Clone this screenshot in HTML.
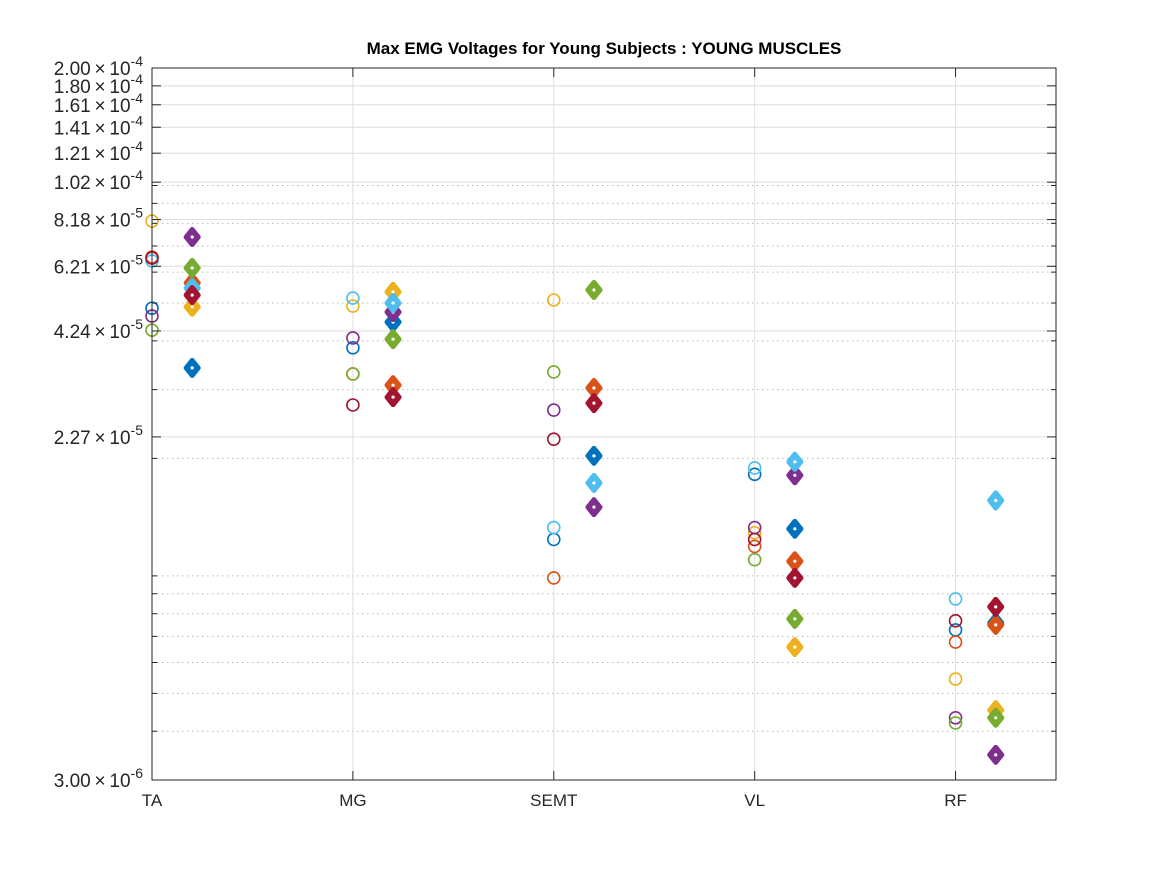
<!DOCTYPE html>
<html><head><meta charset="utf-8"><style>
html,body{margin:0;padding:0;background:#fff;}
svg{display:block;font-family:"Liberation Sans",Arial,sans-serif;}
</style></head><body>
<svg id="chart" width="1167" height="875" viewBox="0 0 1167 875" xmlns="http://www.w3.org/2000/svg">
<rect width="1167" height="875" fill="#fff"/>
<text x="604" y="54" text-anchor="middle" font-size="17" font-weight="bold" fill="#000">Max EMG Voltages for Young Subjects : YOUNG MUSCLES</text>
<g id="grid"></g><g id="marks"></g><g id="axes"></g>
</svg>
<script>
const categories = ["TA","MG","SEMT","VL","RF"];
const yTickValues = [2.00e-4,1.80e-4,1.61e-4,1.41e-4,1.21e-4,1.02e-4,8.18e-5,6.21e-5,4.24e-5,2.27e-5,3.00e-6];
const yTickMant = ["2.00","1.80","1.61","1.41","1.21","1.02","8.18","6.21","4.24","2.27","3.00"];
const yTickExp = ["-4","-4","-4","-4","-4","-4","-5","-5","-5","-5","-6"];
const colors = ["#0072BD","#D95319","#EDB120","#7E2F8E","#77AC30","#4DBEEE","#A2142F"];
// values in units of 1e-5 V
const circBlue = [4.85,3.84,1.24,1.82,0.727];
const circOrange = [6.56,3.29,0.988,1.19,0.677];
const circYellow = [8.11,4.91,5.09,1.29,0.544];
const circPurple = [4.63,4.07,2.66,1.33,0.433];
const circGreen = [4.26,3.29,3.33,1.10,0.420];
const circLightBlue = [6.41,5.15,1.33,1.89,0.873];
const circRed = [6.52,2.74,2.24,1.24,0.767];
const diaBlue = [3.41,4.47,2.03,1.32,0.758];
const diaOrange = [5.63,3.08,3.03,1.09,0.749];
const diaYellow = [4.89,5.34,5.40,0.657,0.453];
const diaPurple = [7.38,4.74,1.50,1.81,0.348];
const diaGreen = [6.15,4.04,5.40,0.776,0.433];
const diaLightBlue = [5.46,5.00,1.73,1.96,1.56];
const diaRed = [5.24,2.87,2.77,0.988,0.833];

const circSeries=[circBlue,circOrange,circYellow,circPurple,circGreen,circLightBlue,circRed];
const diaSeries=[diaBlue,diaOrange,diaYellow,diaPurple,diaGreen,diaLightBlue,diaRed];
const L=152,R=1056,T=68,B=780,YMAX=2e-4,YMIN=3e-6;
const NS="http://www.w3.org/2000/svg";
function X(i){return L+(i)*(R-L)/4.5;}
function Y(v){return T+(Math.log10(YMAX)-Math.log10(v))/(Math.log10(YMAX)-Math.log10(YMIN))*(B-T);}
function mk(tag,attrs,parent){const e=document.createElementNS(NS,tag);for(const k in attrs)e.setAttribute(k,attrs[k]);parent.appendChild(e);return e;}
const grid=document.getElementById('grid'),marks=document.getElementById('marks'),axes=document.getElementById('axes');
for(let k=-6;k<=-4;k++){for(let n=1;n<=9;n++){const v=n*Math.pow(10,k);if(v<YMIN*1.001||v>YMAX*0.999)continue;const y=Y(v);
const g=mk('line',{x1:L,x2:R,y1:y,y2:y,stroke:'#b8b8b8','stroke-width':1,'stroke-dasharray':'1.5 3.5'},grid);

mk('line',{x1:L,x2:L+5,y1:y,y2:y,stroke:'#262626'},axes);mk('line',{x1:R,x2:R-5,y1:y,y2:y,stroke:'#262626'},axes);}}
yTickValues.forEach((v,i)=>{const y=Y(v);
const g=mk('line',{x1:L,x2:R,y1:y,y2:y,stroke:'#dedede','stroke-width':1},grid);

mk('line',{x1:L,x2:L+9,y1:y,y2:y,stroke:'#262626'},axes);mk('line',{x1:R,x2:R-9,y1:y,y2:y,stroke:'#262626'},axes);
const t=mk('text',{x:143,y:y+7,'text-anchor':'end','font-size':19,fill:'#262626'},axes);

const a=document.createElementNS(NS,'tspan');a.textContent=yTickMant[i]+'\u2009\u00d7\u200910';t.appendChild(a);
const b=document.createElementNS(NS,'tspan');b.setAttribute('dy','-9');b.setAttribute('font-size','14');b.textContent=yTickExp[i];t.appendChild(b);
});
categories.forEach((c,i)=>{const x=X(i);
const g=mk('line',{x1:x,x2:x,y1:T,y2:B,stroke:'#dedede'},grid);

mk('line',{x1:x,x2:x,y1:B,y2:B-9,stroke:'#262626'},axes);mk('line',{x1:x,x2:x,y1:T,y2:T+9,stroke:'#262626'},axes);
const t=mk('text',{x:x,y:806,'text-anchor':'middle','font-size':17,fill:'#262626'},axes);t.textContent=c;

});
const box=mk('rect',{x:L,y:T,width:R-L,height:B-T,fill:'none',stroke:'#262626','stroke-width':1},axes);

circSeries.forEach((s,si)=>{s.forEach((v,i)=>{
const c=mk('circle',{cx:X(i),cy:Y(v*1e-5),r:6,fill:'none',stroke:colors[si],'stroke-width':1.6},marks);
});});
diaSeries.forEach((s,si)=>{s.forEach((v,i)=>{const x=X(i+0.2),y=Y(v*1e-5);
const d=mk('path',{d:`M${x} ${y-7.5}L${x+6} ${y}L${x} ${y+7.5}L${x-6} ${y}Z`,fill:colors[si],stroke:colors[si],'stroke-width':5,'stroke-linejoin':'round'},marks);

mk('circle',{cx:x,cy:y,r:1.6,fill:'#fff'},marks);});});
</script>
</body></html>
